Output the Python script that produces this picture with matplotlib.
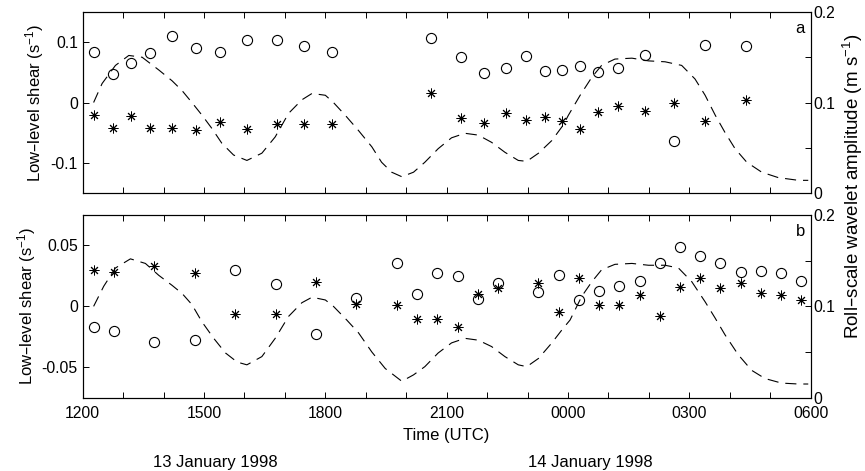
import matplotlib
matplotlib.use("Agg")
import matplotlib.pyplot as plt

plt.rcParams['font.family'] = ['Liberation Sans', 'DejaVu Sans']
plt.rcParams['font.size'] = 12
plt.rcParams['xtick.labelsize'] = 11.3
plt.rcParams['ytick.labelsize'] = 11.3
plt.rcParams['mathtext.default'] = 'regular'
plt.rcParams['lines.scale_dashes'] = False

# time in hours from 1200 UTC 13 Jan (24 = 0000 14 Jan)
time_a = [12.29, 12.75, 13.20, 13.66, 14.21, 14.79, 15.39, 16.07, 16.80, 17.46, 18.17,
          20.61, 21.35, 21.93, 22.47, 22.96, 23.43, 23.84, 24.30, 24.74, 25.24, 25.91,
          26.62, 27.39, 28.41]
circ_a = [0.084, 0.048, 0.065, 0.082, 0.110, 0.091, 0.084, 0.104, 0.104, 0.093, 0.084,
          0.107, 0.075, 0.049, 0.058, 0.077, 0.053, 0.054, 0.060, 0.051, 0.057, 0.078,
          -0.064, 0.096, 0.094]
star_a = [-0.021, -0.042, -0.023, -0.042, -0.042, -0.045, -0.032, -0.044, -0.036, -0.036, -0.035,
          0.015, -0.025, -0.034, -0.018, -0.029, -0.024, -0.030, -0.044, -0.016, -0.006, -0.014,
          -0.001, -0.031, 0.004]

time_b = [12.28, 12.77, 13.77, 14.78, 15.77, 16.77, 17.77, 18.77, 19.76, 20.27, 20.77,
          21.27, 21.78, 22.27, 23.27, 23.78, 24.27, 24.77, 25.27, 25.77, 26.28, 26.78,
          27.27, 27.77, 28.28, 28.77, 29.27, 29.77]
circ_b = [-0.017, -0.020, -0.029, -0.028, 0.030, 0.018, -0.023, 0.007, 0.036, 0.010, 0.027,
          0.025, 0.006, 0.019, 0.012, 0.026, 0.005, 0.013, 0.017, 0.021, 0.036, 0.049,
          0.041, 0.036, 0.028, 0.029, 0.027, 0.021]
star_b = [0.030, 0.028, 0.033, 0.027, -0.006, -0.006, 0.020, 0.002, 0.001, -0.010, -0.010,
          -0.017, 0.010, 0.015, 0.019, -0.005, 0.023, 0.001, 0.001, 0.009, -0.008, 0.016,
          0.023, 0.015, 0.019, 0.011, 0.009, 0.005]

# roll-scale wavelet amplitude (right axis)
wt_a = [12.27, 12.48, 12.81, 13.14, 13.47, 13.88, 14.21, 14.46, 14.70, 14.95, 15.20, 15.44,
        15.73, 16.06, 16.43, 16.76, 17.09, 17.42, 17.67, 18.00, 18.20, 18.49, 18.82, 19.15,
        19.39, 19.64, 19.89, 20.18, 20.46, 20.79, 21.12, 21.45, 21.78, 22.11, 22.44, 22.77,
        22.98, 23.27, 23.60, 23.88, 24.01, 24.30, 24.59, 24.83, 25.16, 25.58, 25.99, 26.40,
        26.81, 27.14, 27.39, 27.64, 27.88, 28.13, 28.42, 28.79, 29.20, 29.70, 29.94]
amp_a = [0.100, 0.121, 0.141, 0.152, 0.150, 0.136, 0.124, 0.113, 0.100, 0.086, 0.071, 0.055,
         0.042, 0.036, 0.044, 0.062, 0.088, 0.103, 0.110, 0.108, 0.100, 0.086, 0.069, 0.051,
         0.034, 0.023, 0.018, 0.023, 0.034, 0.049, 0.061, 0.066, 0.064, 0.056, 0.045, 0.036,
         0.035, 0.044, 0.058, 0.075, 0.086, 0.108, 0.128, 0.141, 0.148, 0.149, 0.146, 0.145,
         0.141, 0.126, 0.108, 0.086, 0.067, 0.049, 0.034, 0.023, 0.017, 0.014, 0.014]
wt_b = [12.27, 12.52, 12.81, 13.18, 13.55, 13.88, 14.21, 14.46, 14.70, 14.95, 15.24, 15.53,
        15.82, 16.06, 16.43, 16.76, 17.09, 17.42, 17.67, 18.00, 18.20, 18.53, 18.82, 19.15,
        19.48, 19.89, 20.18, 20.46, 20.79, 21.12, 21.45, 21.78, 22.11, 22.44, 22.77, 22.98,
        23.27, 23.60, 23.88, 24.05, 24.34, 24.59, 24.83, 25.16, 25.58, 25.99, 26.40, 26.73,
        27.06, 27.39, 27.64, 27.88, 28.21, 28.54, 28.87, 29.28, 29.70, 29.94]
amp_b = [0.100, 0.122, 0.142, 0.152, 0.147, 0.134, 0.123, 0.114, 0.102, 0.083, 0.065, 0.049,
         0.039, 0.036, 0.045, 0.065, 0.089, 0.104, 0.110, 0.107, 0.100, 0.085, 0.071, 0.050,
         0.032, 0.018, 0.025, 0.034, 0.049, 0.060, 0.065, 0.063, 0.056, 0.045, 0.036, 0.034,
         0.043, 0.060, 0.076, 0.085, 0.111, 0.127, 0.140, 0.146, 0.147, 0.145, 0.145, 0.142,
         0.127, 0.105, 0.087, 0.069, 0.047, 0.030, 0.021, 0.016, 0.015, 0.015]

xticks = [12, 15, 18, 21, 24, 27, 30]
xlabels = ['1200', '1500', '1800', '2100', '0000', '0300', '0600']


def draw_panel(ax, t, circ, star, wt, amp, lim, yticks, tag):
    ax.plot(t, circ, 'o', ms=7.3, mfc='none', mec='black', mew=0.8)
    ax.plot(t, star, marker=(8, 2, 0), ls='none', ms=7, color='black', mew=0.7)
    ax.set_xlim(12, 30)
    ax.set_ylim(-lim, lim)
    ax.set_yticks(yticks)
    ax.set_yticklabels([f'{v:g}' for v in yticks])
    ax.set_xticks(range(12, 31))
    ax.set_xticklabels([])
    ax.tick_params(direction='in', top=True, length=4, width=0.7)
    ax.set_ylabel('Low\u2013level shear (s$^{-1}$)', labelpad=3)
    for s in ax.spines.values():
        s.set_linewidth(0.8)

    ax2 = ax.twinx()
    line, = ax2.plot(wt, amp, color='black', lw=0.8)
    line.set_dashes([8, 5])
    ax2.set_ylim(0, 0.2)
    ax2.set_yticks([0, 0.05, 0.1, 0.15, 0.2])
    ax2.set_yticklabels(['0', '', '0.1', '', '0.2'])
    ax2.tick_params(direction='in', length=4, width=0.7, pad=2)
    ax.text(0.992, 0.95, tag, transform=ax.transAxes, ha='right', va='top', fontsize=12)
    return ax2


fig = plt.figure(figsize=(8.65, 4.71), dpi=100)
ax_a = fig.add_axes([0.0956, 0.5902, 0.8416, 0.3843])
ax_b = fig.add_axes([0.0956, 0.1556, 0.8416, 0.3879])

draw_panel(ax_a, time_a, circ_a, star_a, wt_a, amp_a, 0.15, [-0.1, 0, 0.1], 'a')
draw_panel(ax_b, time_b, circ_b, star_b, wt_b, amp_b, 0.075, [-0.05, 0, 0.05], 'b')

labels = [xlabels[xticks.index(h)] if h in xticks else '' for h in range(12, 31)]
ax_b.set_xticklabels(labels)
ax_b.tick_params(axis='x', pad=6)
ax_b.set_xlabel('Time (UTC)', labelpad=5)

fig.text(853 / 865, 1 - 186 / 471, 'Roll\u2013scale wavelet amplitude (m s$^{-1}$)',
         rotation=90, ha='center', va='center', fontsize=13.5)
fig.text(215 / 865, 1 - 462 / 471, '13 January 1998', ha='center', va='center')
fig.text(590 / 865, 1 - 462 / 471, '14 January 1998', ha='center', va='center')

plt.savefig('out.png', dpi=100)
